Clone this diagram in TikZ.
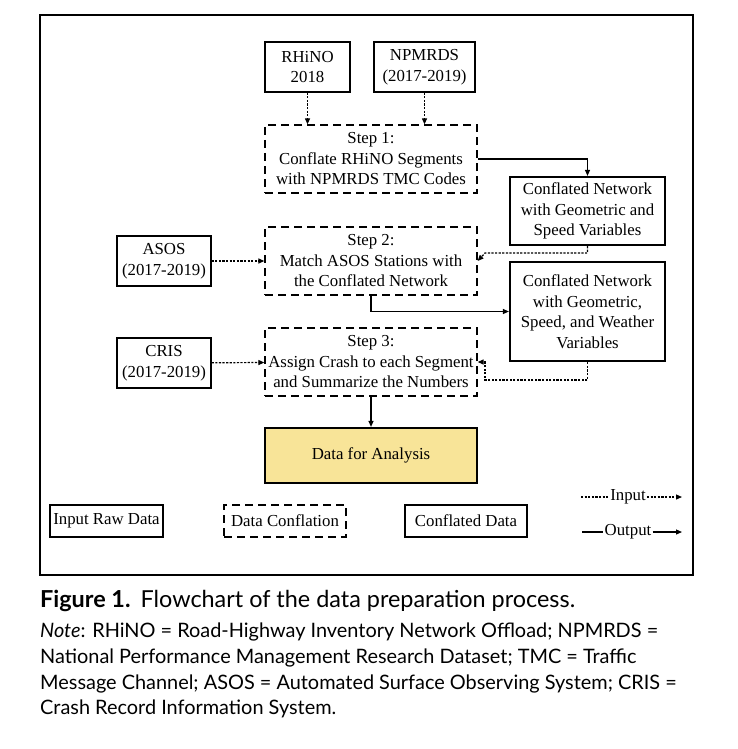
\documentclass[tikz,border=0pt]{standalone}
\usepackage{fontspec}
\setmainfont{Liberation Serif}
\newfontfamily\capfont{Lato}
\usetikzlibrary{arrows.meta}
\definecolor{analysisyellow}{RGB}{248,228,152}
\newcommand{\diagfont}{\fontsize{16.8}{20.5}\selectfont}

\begin{document}
\begin{tikzpicture}[x=1pt,y=-1pt,
        raw/.style={draw, line width=1.3pt, align=center, font=\diagfont, minimum height=50pt, inner sep=2pt},
        conf/.style={draw, line width=1.3pt, dash pattern=on 8pt off 5pt, align=center, font=\diagfont,
            minimum width=212pt, minimum height=68pt, inner sep=1pt},
        result/.style={draw, line width=2.2pt, align=center, font=\diagfont, minimum width=155pt, inner sep=2pt},
        dots/.style={line width=1.2pt, dash pattern=on 2.2pt off 1.4pt},
        feed/.style={dots, -{Triangle[length=6pt,width=5pt]}},
        flow/.style={line width=1.2pt, -{Triangle[length=6pt,width=5pt]}}]
    \useasboundingbox (0,0) rectangle (737,749);
    \draw[line width=2pt] (40,15) rectangle (693,575);

    % input data
    \node[raw, minimum width=85pt] (rhino) at (307.5,67) {RHiNO\\2018};
    \node[raw, minimum width=101pt] (npmrds) at (424.5,67) {NPMRDS\\(2017-2019)};
    \node[raw, minimum width=94pt] (asos) at (164,261) {ASOS\\(2017-2019)};
    \node[raw, minimum width=94pt] (cris) at (164,363) {CRIS\\(2017-2019)};

    % conflation steps
    \node[conf] (stepone) at (371,159) {Step 1:\\Conflate RHiNO Segments\\with NPMRDS TMC Codes};
    \node[conf] (steptwo) at (371,261) {Step 2:\\Match ASOS Stations with\\the Conflated Network};
    \node[conf] (stepthree) at (371,362) {Step 3:\\Assign Crash to each Segment\\and Summarize the Numbers};

    % conflated data
    \node[result, minimum height=68pt] (netone) at (587.5,211) {Conflated Network\\with Geometric and\\Speed Variables};
    \node[result, minimum height=99pt] (nettwo) at (587.5,311.5) {Conflated Network\\with Geometric,\\Speed, and Weather\\Variables};
    \node[result, fill=analysisyellow, minimum width=212pt, minimum height=55pt] (analysis) at (371,455.5) {Data for Analysis};

    % connectors
    \draw[feed] (rhino) -- (stepone.north -| rhino);
    \draw[feed] (npmrds) -- (stepone.north -| npmrds);
    \draw[flow] (stepone.east) -| (netone.north);
    \coordinate (bendone) at (485,253);
    \draw[feed] (netone.south) |- (bendone) -- (steptwo.east);
    \draw[flow] (steptwo.south) |- (nettwo.west);
    \coordinate (bendtwo) at (485,380);
    \draw[feed] (nettwo.south) |- (bendtwo) |- (stepthree.east);
    \draw[feed] (asos) -- (steptwo);
    \draw[feed] (cris) -- (stepthree);
    \draw[flow] (stepthree) -- (analysis);

    % legend
    \node[raw, minimum width=113pt, minimum height=32pt] (legraw) at (106.5,521) {Input Raw Data};
    \node[conf, minimum width=122pt, minimum height=32pt] (legconf) at (285,521) {Data Conflation};
    \node[result, minimum width=122pt, minimum height=32pt] (legres) at (466,521) {Conflated Data};
    \node[font=\diagfont, inner sep=1pt] (leginput) at (628,497) {Input};
    \node[font=\diagfont, inner sep=1pt] (legoutput) at (628,532) {Output};
    \coordinate (inleft) at (581,497);
    \coordinate (inright) at (682,497);
    \coordinate (outleft) at (582,532);
    \coordinate (outright) at (682,532);
    \draw[dots] (inleft) -- (leginput.west);
    \draw[feed] (leginput.east) -- (inright);
    \draw[line width=1.2pt] (outleft) -- (legoutput.west);
    \draw[flow] (legoutput.east) -- (outright);

    % caption
    \node[anchor=north west, inner sep=0pt, font=\capfont\fontsize{23.4}{27}\selectfont] (capline) at (40,590)
        {\textbf{Figure 1.}\hspace{10pt}Flowchart of the data preparation process.};
    \node[anchor=north west, inner sep=0pt, align=left, font=\capfont\fontsize{19.9}{25.7}\selectfont] (capnote) at (40,623)
        {\textit{Note}: RHiNO = Road-Highway Inventory Network Offload; NPMRDS =\\
        National Performance Management Research Dataset; TMC = Traffic\\
        Message Channel; ASOS = Automated Surface Observing System; CRIS =\\
        Crash Record Information System.};
\end{tikzpicture}
\end{document}
